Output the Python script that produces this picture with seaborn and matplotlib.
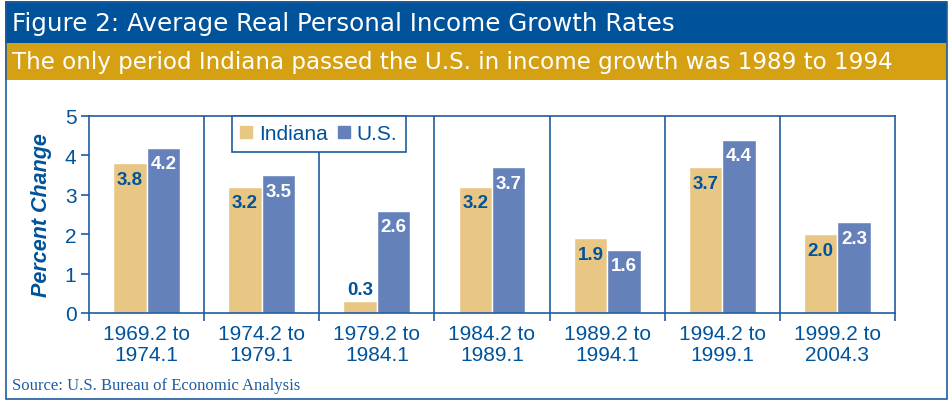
import pandas as pd
import matplotlib
matplotlib.use("Agg")
import matplotlib.pyplot as plt
import seaborn as sns
from matplotlib.patches import Rectangle
from matplotlib.lines import Line2D

# ---------------------------------------------------------------------------
# Data
# ---------------------------------------------------------------------------
periods = [
    "1969.2 to\n1974.1",
    "1974.2 to\n1979.1",
    "1979.2 to\n1984.1",
    "1984.2 to\n1989.1",
    "1989.2 to\n1994.1",
    "1994.2 to\n1999.1",
    "1999.2 to\n2004.3",
]
indiana = [3.8, 3.2, 0.3, 3.2, 1.9, 3.7, 2.0]
us = [4.2, 3.5, 2.6, 3.7, 1.6, 4.4, 2.3]
series_names = ["Indiana", "U.S."]
y_ticks = [0, 1, 2, 3, 4, 5]

title = "Figure 2: Average Real Personal Income Growth Rates"
subtitle = "The only period Indiana passed the U.S. in income growth was 1989 to 1994"
source = "Source: U.S. Bureau of Economic Analysis"

# colours
BLUE = "#1F5C9E"
TITLE_BLUE = "#00539B"
GOLD = "#D6A013"
IND_COL = "#E8C784"
US_COL = "#6581BA"

df = pd.DataFrame({
    "Period": periods * 2,
    "Value": indiana + us,
    "Series": [series_names[0]] * len(periods) + [series_names[1]] * len(periods),
})

sns.set_style("white")
plt.rcParams["font.family"] = ["Liberation Sans", "DejaVu Sans"]

fig = plt.figure(figsize=(9.5, 4.02), dpi=100)
W, H = 950, 402


def fx(px):
    return px / W


def fy(py):
    return 1 - py / H


# header bands and outer frame
fig.add_artist(Rectangle((fx(5), fy(44)), fx(942), 42 / H,
                         transform=fig.transFigure, color=TITLE_BLUE, lw=0))
fig.add_artist(Rectangle((fx(5), fy(81)), fx(942), 37 / H,
                         transform=fig.transFigure, color=GOLD, lw=0))
fig.add_artist(Rectangle((fx(5.5), fy(399.5)), fx(941), 397 / H,
                         transform=fig.transFigure, fill=False,
                         edgecolor=BLUE, lw=1.2))
fig.text(fx(12), fy(24), title, color="white", fontsize=17.7,
         family="DejaVu Sans", va="center", ha="left")
fig.text(fx(12), fy(63), subtitle, color="white", fontsize=16.6,
         family="DejaVu Sans", va="center", ha="left")
fig.text(fx(12), fy(386), source, color=BLUE, fontsize=12,
         family="Liberation Serif", va="center", ha="left")

ax = fig.add_axes([fx(89), fy(314), fx(895 - 89), (314 - 117) / H])

sns.barplot(
    data=df, x="Period", y="Value", hue="Series",
    palette=[IND_COL, US_COL], saturation=1, width=0.58,
    ax=ax, legend=False,
)

ax.set_ylim(0, 5)
ax.set_xlim(-0.5, len(periods) - 0.5)
ax.set_yticks(y_ticks)
ax.set_xlabel("")
ax.set_ylabel("Percent Change", color=TITLE_BLUE, fontsize=15.5,
              fontweight="bold", fontstyle="italic", labelpad=9)

# group separators
for i in range(len(periods) - 1):
    ax.axvline(i + 0.5, color=BLUE, lw=1.2, zorder=1)

for side in ["left", "right", "top", "bottom"]:
    ax.spines[side].set_color(BLUE)
    ax.spines[side].set_linewidth(1.2)

ax.set_xticks(range(len(periods)))
ax.set_xticklabels(periods, linespacing=1.12)
ax.set_xticks([i - 0.5 for i in range(len(periods) + 1)], minor=True)
ax.tick_params(axis="x", which="major", length=0, labelsize=15,
               labelcolor=TITLE_BLUE, pad=8)
ax.tick_params(axis="x", which="minor", length=6, width=1.2,
               color=BLUE, direction="out", bottom=True)
ax.tick_params(axis="y", length=6, width=1.2, color=BLUE, labelsize=15,
               labelcolor=TITLE_BLUE, direction="out", left=True, pad=3)

# value labels
for container, txt_col in zip(ax.containers, [TITLE_BLUE, "white"]):
    for bar in container:
        h = bar.get_height()
        xc = bar.get_x() + bar.get_width() / 2
        if h < 0.8:
            ax.annotate(f"{h:.1f}", (xc, h), xytext=(0, 2),
                        textcoords="offset points", ha="center", va="bottom",
                        color=TITLE_BLUE, fontsize=13.5, fontweight="bold")
        else:
            ax.annotate(f"{h:.1f}", (xc, h), xytext=(0, -11.5),
                        textcoords="offset points", ha="center", va="center",
                        color=txt_col, fontsize=13.5, fontweight="bold")

handles = [
    Line2D([], [], marker="s", linestyle="", markersize=8,
           markerfacecolor=IND_COL, markeredgecolor=IND_COL),
    Line2D([], [], marker="s", linestyle="", markersize=8,
           markerfacecolor=US_COL, markeredgecolor=US_COL),
]
leg = ax.legend(handles, series_names, loc="upper left",
                bbox_to_anchor=(0.177, 1.0), borderaxespad=0, ncol=2,
                frameon=True, fancybox=False, framealpha=1,
                edgecolor=BLUE, fontsize=15, handlelength=0.55,
                handletextpad=0.35, columnspacing=0.5, borderpad=0.4)
leg.get_frame().set_linewidth(1.2)
for t in leg.get_texts():
    t.set_color(TITLE_BLUE)
leg.set_zorder(5)

fig.savefig("out.png", dpi=100)
